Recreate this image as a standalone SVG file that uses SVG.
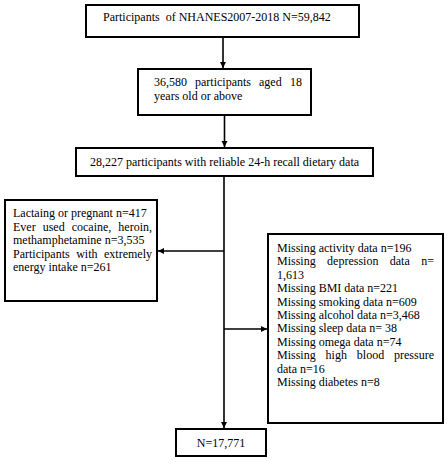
<svg xmlns="http://www.w3.org/2000/svg" width="447" height="462" viewBox="0 0 447 462">
<style>
.box{fill:#fff;stroke:#000;stroke-width:2}
text{font-family:'Liberation Serif','Times New Roman','DejaVu Serif',serif;font-size:12px;fill:#000}
.ln{stroke:#000;stroke-width:1.6;fill:none}
</style>
<defs>
<marker id="ah" viewBox="0 0 10 10" refX="10" refY="5" markerWidth="4" markerHeight="4" orient="auto" markerUnits="strokeWidth">
<path d="M0,0 L10,5 L0,10 z" fill="#000"/>
</marker>
</defs>
<rect width="447" height="462" fill="#fff"/>
<g id="connectors">
<line class="ln" x1="223" y1="37" x2="223" y2="68" marker-end="url(#ah)"/>
<line class="ln" x1="224.5" y1="115" x2="224.5" y2="147" marker-end="url(#ah)"/>
<line class="ln" x1="224" y1="176" x2="224" y2="428" marker-end="url(#ah)"/>
<line class="ln" x1="224" y1="251" x2="158" y2="251" marker-end="url(#ah)"/>
<line class="ln" x1="224" y1="329" x2="267" y2="329" marker-end="url(#ah)"/>
</g>
<g id="n1">
<rect class="box" x="86" y="5" width="273" height="32"/>
<text x="103" y="21" xml:space="preserve">Participants  of NHANES2007-2018 N=59,842</text>
</g>
<g id="n2">
<rect class="box" x="138" y="69" width="173" height="46"/>
<text y="86"><tspan x="154">36,580</tspan><tspan x="195">participants</tspan><tspan x="259">aged</tspan><tspan x="302" text-anchor="end">18</tspan></text>
<text x="154" y="100">years old or above</text>
</g>
<g id="n3">
<rect class="box" x="76" y="148" width="297" height="28"/>
<text x="224.5" y="166" text-anchor="middle">28,227 participants with reliable 24-h recall dietary data</text>
</g>
<g id="n4">
<rect class="box" x="5" y="200" width="152" height="101"/>
<text x="13" y="217">Lactaing or pregnant n=417</text>
<text y="230.5"><tspan x="13">Ever</tspan><tspan x="42.7">used</tspan><tspan x="71.7">cocaine,</tspan><tspan x="152" text-anchor="end">heroin,</tspan></text>
<text x="13" y="244">methamphetamine n=3,535</text>
<text y="257.5"><tspan x="13">Participants</tspan><tspan x="76.2">with</tspan><tspan x="152" text-anchor="end">extremely</tspan></text>
<text x="13" y="271">energy intake n=261</text>
</g>
<g id="n5">
<rect class="box" x="268" y="234" width="175" height="189"/>
<text x="277" y="252">Missing activity data n=196</text>
<text y="265.4"><tspan x="277">Missing</tspan><tspan x="327.1">depression</tspan><tspan x="389.8">data</tspan><tspan x="434" text-anchor="end">n=</tspan></text>
<text x="277" y="278.8">1,613</text>
<text x="277" y="292.2">Missing BMI data n=221</text>
<text x="277" y="305.6">Missing smoking data n=609</text>
<text x="277" y="319">Missing alcohol data n=3,468</text>
<text x="277" y="332.4">Missing sleep data n= 38</text>
<text x="277" y="345.8">Missing omega data n=74</text>
<text y="359.2"><tspan x="277">Missing</tspan><tspan x="325.6">high</tspan><tspan x="356.8">blood</tspan><tspan x="434" text-anchor="end">pressure</tspan></text>
<text x="277" y="372.6">data n=16</text>
<text x="277" y="386">Missing diabetes n=8</text>
</g>
<g id="n6">
<rect class="box" x="176" y="429" width="90" height="27"/>
<text x="221" y="447" text-anchor="middle">N=17,771</text>
</g>
</svg>
